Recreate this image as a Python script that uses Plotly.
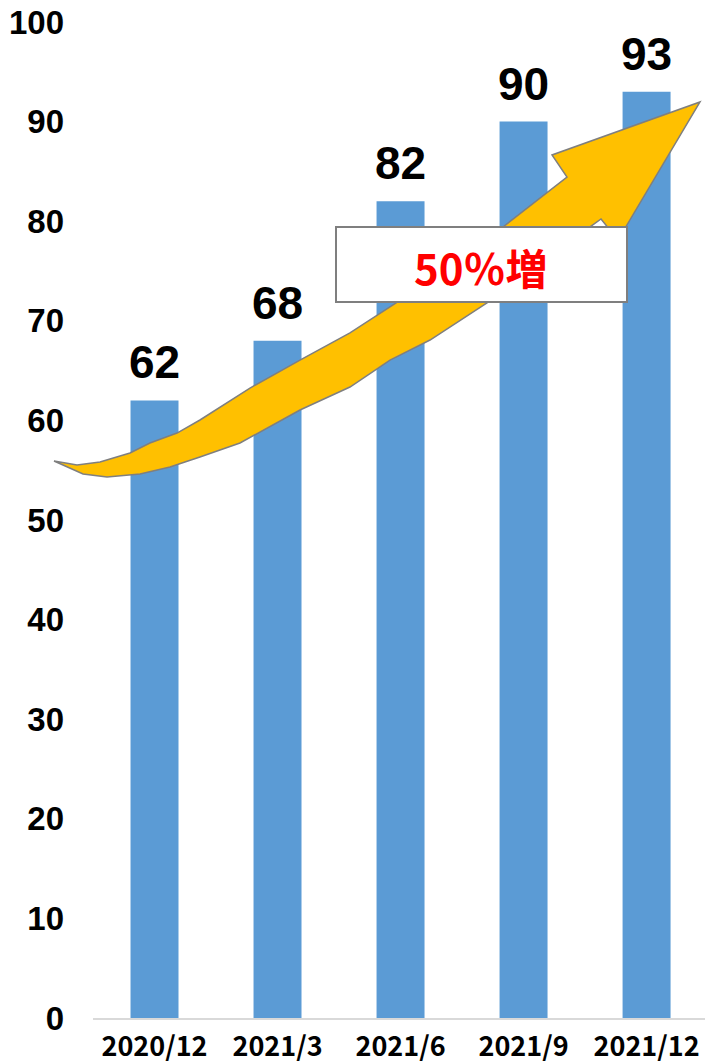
import plotly.graph_objects as go

# chart data
periods = ["2020/12", "2021/3", "2021/6", "2021/9", "2021/12"]
counts = [62, 68, 82, 90, 93]
y_ticks = [0, 10, 20, 30, 40, 50, 60, 70, 80, 90, 100]
growth_label = "50％増"

W, H = 705, 1063
L, R, T, B = 93, 0, 22, 45


def px2paper(px, py):
    # convert a pixel position of the screenshot to paper coordinates
    return (px - L) / (W - L - R), (H - B - py) / (H - T - B)


def make_path(points):
    pts = [px2paper(x, y) for x, y in points]
    path = "M " + " L ".join(f"{x:.4f},{y:.4f}" for x, y in pts) + " Z"
    return path


# outline of the curved arrow (screenshot pixels)
arrow_outline = [
    (54, 461), (77, 465), (100, 462), (130, 453), (150, 443), (177, 433),
    (200, 420), (250, 388), (300, 360), (350, 333), (390, 307), (450, 268),
    (503, 227), (567, 177), (552, 155), (700, 102), (618, 240), (601, 219),
    (590, 227), (540, 264), (487, 303), (430, 340), (390, 360), (350, 387),
    (300, 410), (240, 443), (200, 457), (170, 467), (140, 474), (107, 477),
    (83, 474),
]

fig = go.Figure()
fig.add_trace(go.Bar(x=periods, y=counts, marker=dict(color="#5B9BD5", line_width=0)))

# value labels above bars
for p, v in zip(periods, counts):
    fig.add_annotation(x=p, y=v, text=str(v), showarrow=False, yanchor="bottom", yshift=10,
                       font=dict(family="Liberation Sans", size=46, color="black", weight="bold"))

fig.add_shape(type="path", xref="paper", yref="paper", path=make_path(arrow_outline),
              fillcolor="#FFC000", line=dict(color="#7F7F7F", width=1.5))

bx0, by0 = px2paper(336, 302)
bx1, by1 = px2paper(627, 227)
fig.add_shape(type="rect", xref="paper", yref="paper", x0=bx0, y0=by0, x1=bx1, y1=by1,
              fillcolor="white", line=dict(color="#7F7F7F", width=2))
tx, ty = px2paper(481, 266)
fig.add_annotation(x=tx, y=ty, xref="paper", yref="paper", yanchor="middle",
                   text=growth_label, showarrow=False,
                   font=dict(family="Noto Sans CJK JP", size=42, color="#FF0000", weight="bold"))

fig.update_xaxes(showline=True, linecolor="#D9D9D9", linewidth=2, showgrid=False,
                 range=[-0.5, 4.475], ticks="", ticklabelstandoff=4, automargin=False,
                 ticklabeloverflow="allow",
                 tickfont=dict(family="Noto Sans CJK JP", size=27, color="black", weight="bold"))
fig.update_yaxes(range=[0, 100], tickvals=y_ticks, showgrid=False, zeroline=False, showline=False,
                 ticklabelstandoff=28, automargin=False, ticklabeloverflow="allow",
                 tickfont=dict(family="Liberation Sans", size=33, color="black", weight="bold"))
fig.update_layout(width=W, height=H, margin=dict(l=L, r=R, t=T, b=B, autoexpand=False),
                  plot_bgcolor="white", paper_bgcolor="white", showlegend=False,
                  bargap=0.61)

# drop the browser's default 8px page margin so the figure fills the window
fig.write_html("out.html", config={"displayModeBar": False},
               post_script="document.body.style.margin = '0';")
